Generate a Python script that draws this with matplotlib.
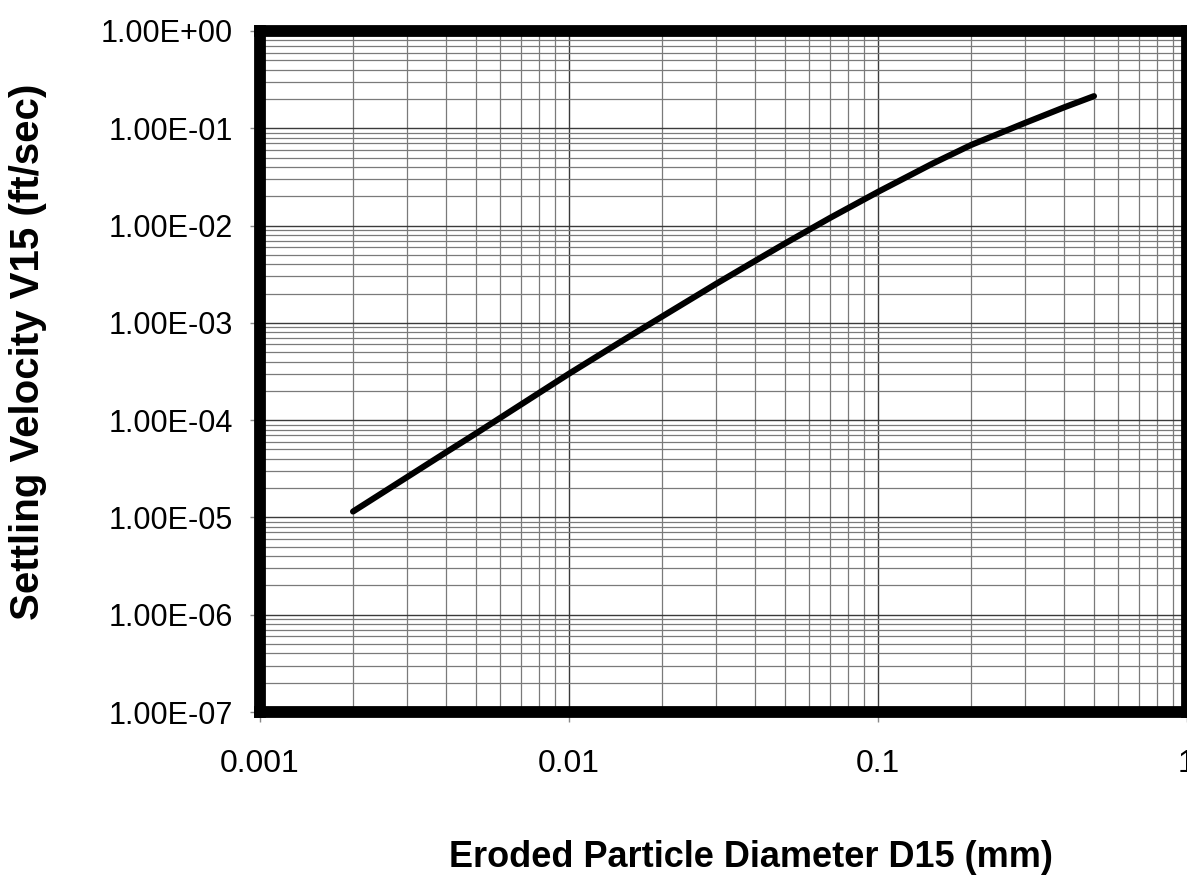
import numpy as np
import matplotlib.pyplot as plt
from matplotlib.ticker import LogLocator, FuncFormatter

# eroded particle diameter D15 (mm) vs settling velocity V15 (ft/sec)
d15 = [0.002, 0.003, 0.004, 0.005, 0.007, 0.01, 0.015, 0.02, 0.03, 0.04, 0.05,
       0.07, 0.1, 0.15, 0.2, 0.3, 0.4, 0.5]
v15 = [1.15e-5, 2.61e-5, 4.67e-5, 7.3e-5, 1.45e-4, 3.0e-4, 6.65e-4, 1.16e-3, 2.53e-3,
       4.33e-3, 6.55e-3, 1.2e-2, 2.22e-2, 4.33e-2, 6.73e-2, 0.114, 0.164, 0.214]

x_ticks = [0.001, 0.01, 0.1, 1]
y_ticks = [1e-7, 1e-6, 1e-5, 1e-4, 1e-3, 1e-2, 1e-1, 1]

plt.rcParams['font.family'] = ['Liberation Sans', 'DejaVu Sans']

fig = plt.figure(figsize=(11.87, 8.77), dpi=100)
ax = fig.add_axes([260 / 1187, (877 - 712) / 877, 927 / 1187, 681 / 877])

ax.plot(d15, v15, color='black', lw=4.4, solid_capstyle='round',
        solid_joinstyle='round', zorder=3)

ax.set_xscale('log')
ax.set_yscale('log')
ax.set_xlim(0.001, 1)
ax.set_ylim(1e-7, 1)

ax.set_xticks(x_ticks)
ax.set_yticks(y_ticks)
ax.xaxis.set_minor_locator(LogLocator(base=10, subs=np.arange(2, 10)))
ax.yaxis.set_minor_locator(LogLocator(base=10, subs=np.arange(2, 10), numticks=20))
ax.xaxis.set_major_formatter(FuncFormatter(lambda v, p: '%g' % v))
ax.yaxis.set_major_formatter(FuncFormatter(lambda v, p: '%.2E' % v))

ax.grid(which='major', color='#3a3a3a', lw=1.0)
ax.grid(which='minor', color='#7a7a7a', lw=0.9)
ax.set_axisbelow(True)

ax.tick_params(which='major', direction='out', length=7.5, width=1.0, color='#888888',
               labelsize=22, pad=12)
ax.tick_params(axis='x', which='major', pad=19, labelsize=23)
ax.tick_params(which='minor', length=0)

for s in ax.spines.values():
    s.set_linewidth(8.5)
    s.set_color('black')
    s.set_capstyle('projecting')

ax.set_xlabel('Eroded Particle Diameter D15 (mm)', fontsize=26, fontweight='bold', va='center')
ax.xaxis.set_label_coords(0.53, -0.213)
ax.set_ylabel('Settling Velocity V15 (ft/sec)', fontsize=29, fontweight='bold', va='center')
ax.yaxis.set_label_coords(-0.25, 0.529)

fig.savefig('out.png', dpi=100)
